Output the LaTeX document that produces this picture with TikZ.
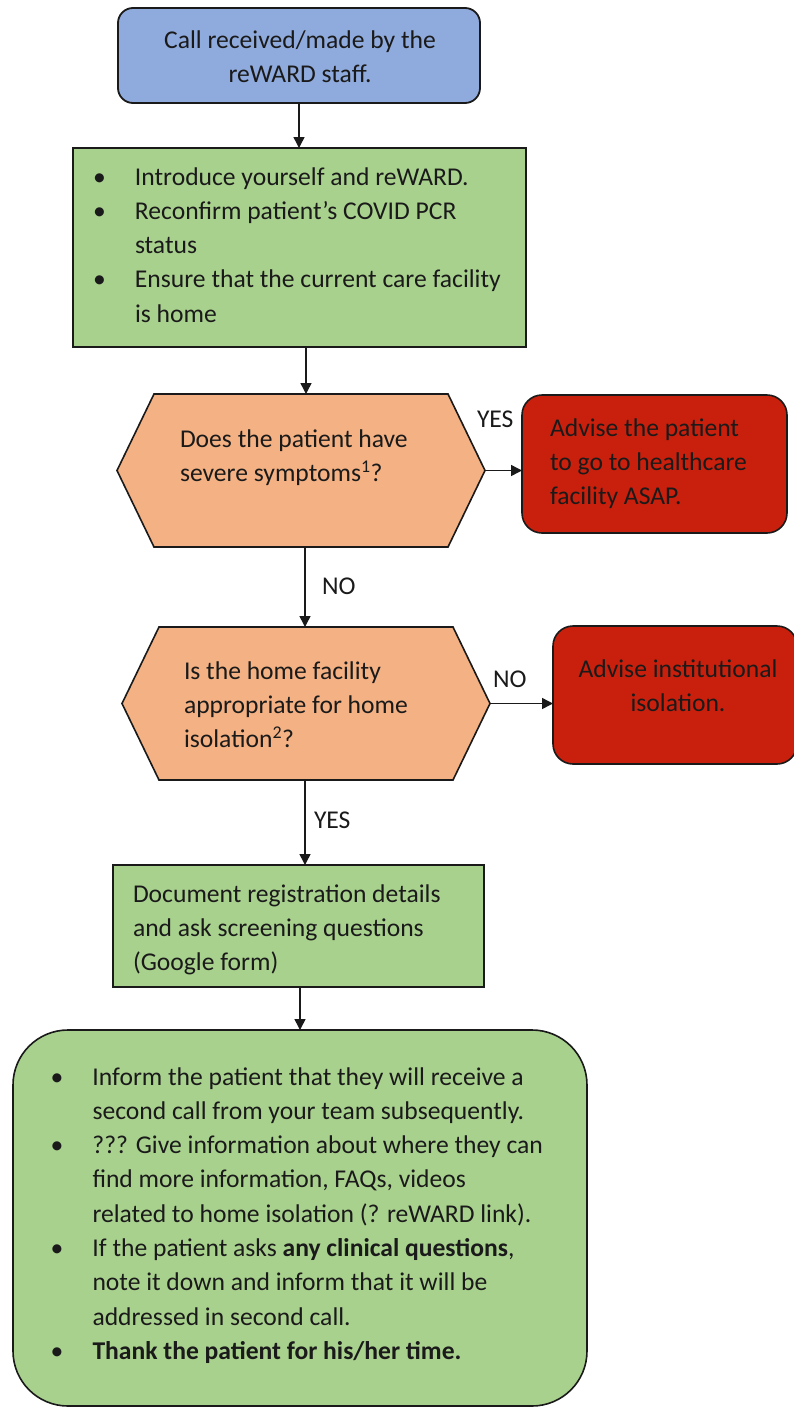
\documentclass[tikz,border=0pt]{standalone}
\usepackage{fontspec}
\setmainfont{Carlito}
\usetikzlibrary{arrows.meta}
\newcommand\fsz{\fontsize{25.6}{34.3}\selectfont}
\definecolor{bluefill}{HTML}{8FAADC}
\definecolor{greenfill}{HTML}{A9D18E}
\definecolor{orangefill}{HTML}{F4B183}
\definecolor{redfill}{HTML}{C8200D}
\definecolor{ink}{HTML}{1A1A1A}
\tikzset{
  box/.style={draw=ink, inner sep=0pt, outer sep=0pt},
  bluebox/.style={box, fill=bluefill, line width=1.8pt, rounded corners=15pt},
  greenrect/.style={box, fill=greenfill, line width=2.6pt},
  greenround/.style={box, fill=greenfill, line width=1.6pt, rounded corners=55pt},
  redbox/.style={box, fill=redfill, line width=1.6pt, rounded corners=20pt},
  hexcore/.style={inner sep=0pt, outer sep=0pt},
  hexshape/.style={draw=ink, fill=orangefill, line width=1.6pt, line join=miter},
  txt/.style={inner sep=0pt, outer sep=0pt, anchor=base west, font=\fsz, text=ink},
  ctxt/.style={txt, anchor=base},
  arr/.style={draw=ink, line width=1.5pt, -{Triangle[length=11pt,width=11pt]}},
}
\begin{document}
\begin{tikzpicture}[x=1pt,y=-1pt]
\useasboundingbox (0,0) rectangle (793,1408);

% boxes
\node[bluebox, minimum width=362pt, minimum height=95pt] (b1) at (299,55.5) {};
\node[greenrect, minimum width=453pt, minimum height=199pt] (g1) at (299.5,247.5) {};
\node[hexcore, minimum width=294pt, minimum height=153pt] (h1) at (301,470.5) {};
\coordinate (h1r) at ([xshift=37pt]h1.east);
\coordinate (h1l) at ([xshift=-37pt]h1.west);
\draw[hexshape] (h1.north west) -- (h1.north east) -- (h1r) -- (h1.south east) -- (h1.south west) -- (h1l) -- cycle;
\node[redbox, minimum width=265pt, minimum height=138pt] (r1) at (654.5,464) {};
\node[hexcore, minimum width=294pt, minimum height=153pt] (h2) at (306,703.5) {};
\coordinate (h2r) at ([xshift=37pt]h2.east);
\coordinate (h2l) at ([xshift=-37pt]h2.west);
\draw[hexshape] (h2.north west) -- (h2.north east) -- (h2r) -- (h2.south east) -- (h2.south west) -- (h2l) -- cycle;
\node[redbox, minimum width=244pt, minimum height=138pt] (r2) at (675,695) {};
\node[greenrect, minimum width=371pt, minimum height=122pt] (g2) at (298.5,926) {};
\node[greenround, minimum width=574pt, minimum height=376pt] (big) at (300,1218) {};

% texts
\node[ctxt] (tb1) at (300,48) {\begin{tabular}[t]{@{}c@{}}Call received/made by the\\ reWARD staff.\end{tabular}};
\node[txt] (tg1) at (93,185) {\begin{tabular}[t]{@{}p{42pt}@{}l@{}}
\textbullet & Introduce yourself and reWARD.\\
\textbullet & Reconfirm patient’s COVID PCR\\
 & status\\
\textbullet & Ensure that the current care facility\\
 & is home\end{tabular}};
\node[txt] (th1) at (180,447) {\begin{tabular}[t]{@{}l@{}}Does the patient have\\ severe symptoms\textsuperscript{1}?\end{tabular}};
\node[txt] (tr1) at (550,436) {\begin{tabular}[t]{@{}l@{}}Advise the patient\\ to go to healthcare\\ facility ASAP.\end{tabular}};
\node[txt] (th2) at (184,679) {\begin{tabular}[t]{@{}l@{}}Is the home facility\\ appropriate for home\\ isolation\textsuperscript{2}?\end{tabular}};
\node[ctxt] (tr2) at (678,677) {\begin{tabular}[t]{@{}c@{}}Advise institutional\\ isolation.\end{tabular}};
\node[txt] (tg2) at (133,902) {\begin{tabular}[t]{@{}l@{}}Document registration details\\ and ask screening questions\\ (Google form)\end{tabular}};
\node[txt] (tbig) at (50.5,1085) {\begin{tabular}[t]{@{}p{42pt}@{}l@{}}
\textbullet & Inform the patient that they will receive a\\
 & second call from your team subsequently.\\
\textbullet & ??? Give information about where they can\\
 & find more information, FAQs, videos\\
 & related to home isolation (? reWARD link).\\
\textbullet & If the patient asks \textbf{any clinical questions},\\
 & note it down and inform that it will be\\
 & addressed in second call.\\
\textbullet & \textbf{Thank the patient for his/her time.}\end{tabular}};

% labels
\node[txt] (yes1) at (477,427) {YES};
\node[txt] (no1) at (322,594) {NO};
\node[txt] (no2) at (493,687) {NO};
\node[txt] (yes2) at (314,828) {YES};

% connectors
\draw[arr] (b1.south) -- (b1.south |- g1.north);
\draw[arr] ([xshift=6.5pt]g1.south) -- ([xshift=5pt]h1.north);
\draw[arr] (h1r) -- (h1r -| r1.west);
\draw[arr] ([xshift=4pt]h1.south) -- ([xshift=-1pt]h2.north);
\draw[arr] (h2r) -- (h2r -| r2.west);
\draw[arr] ([xshift=-1pt]h2.south) -- ([xshift=-1pt]h2.south |- g2.north);
\draw[arr] ([xshift=1.5pt]g2.south) -- ([xshift=1.5pt]g2.south |- big.north);
\end{tikzpicture}
\end{document}
